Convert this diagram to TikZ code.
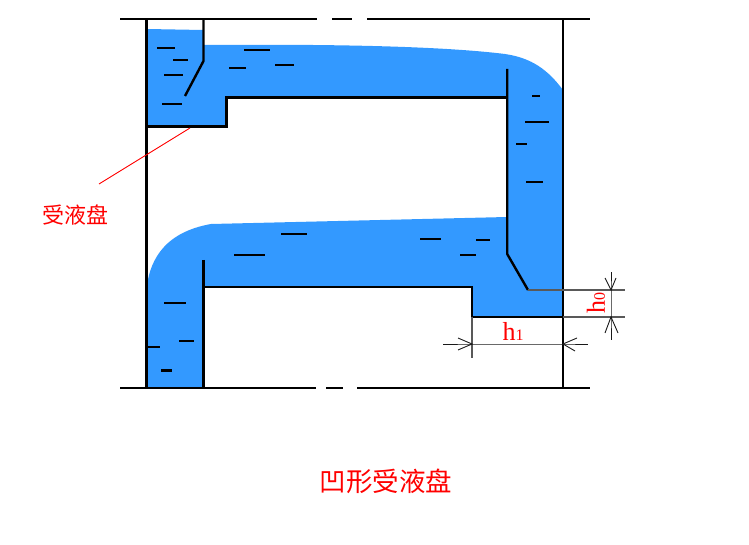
\documentclass[tikz,border=0pt]{standalone}
\usepackage{fontspec}
\setmainfont{Liberation Serif}
\newfontfamily\cjk{Noto Sans CJK SC}
\definecolor{liquid}{RGB}{51,153,255}
\tikzset{
  wall/.style={draw=black,line width=2.4pt},
  ripple/.style={draw=black,line width=2.1pt},
  dim/.style={draw=black!90,line width=0.9pt},
  ext/.style={draw=black!65,line width=1.1pt},
  redtext/.style={text=red,inner sep=0pt},
}
\begin{document}
\begin{tikzpicture}[x=1pt,y=-1pt]
\useasboundingbox (0,0) rectangle (749,545);
% liquid
\fill[liquid] (147,29) -- (203,30) -- (203,45)
  .. controls (330,44) and (440,46) .. (505,54)
  .. controls (532,58) and (548,70) .. (563,90)
  -- (563,317) -- (472,317) -- (472,287) -- (204,287) -- (204,388) -- (147,388)
  -- (147,285) .. controls (151,258) and (166,232) .. (211,224)
  -- (507,217) -- (507,97) -- (227,97) -- (227,126) -- (147,126) -- cycle;
% walls
\draw[wall] (120,19) -- (317,19) (332,19) -- (352,19) (367,19) -- (590,19);
\draw[wall] (120,388) -- (316,388) (326,388) -- (343,388) (357,388) -- (590,388);
\draw[wall] (146.3,19) -- (146.3,388);
\draw[wall] (563.2,19) -- (563.2,388);
\draw[wall] (203.5,19) -- (203.5,61) -- (185,96);
\draw[wall] (146,126.5) -- (226.5,126.5) -- (226.5,97.5) -- (507,97.5);
\draw[wall] (507.2,69) -- (507.2,254) -- (528,290);
\draw[wall] (203.5,260) -- (203.5,388);
\draw[wall] (203.5,287) -- (472,287) -- (472,317) -- (563,317);
% ripples
\foreach \a/\b/\y in {157/175/48,173/188/60,164/183/75,162/182/104,244/270/50,229/246/68,275/294/65,
  532/540/96,525/549/122,516/527/144,526/543/182,
  164/186/303,146/160/347,179/194/341,161/172/370.5,234/265/255,281/307/234,
  420/441/239,476/490/240,460/476/255}
  \draw[ripple] (\a,\y) -- (\b,\y);
% dimension extension lines
\draw[ext] (528,290) -- (625,290);
\draw[ext] (563,317) -- (625,317);
\draw[ext] (472,317) -- (472,358);
% dimension lines
\coordinate (h1a) at (472,344);
\coordinate (h1b) at (563,344);
\coordinate (h0a) at (611,290);
\coordinate (h0b) at (611,317);
\draw[dim] (443,344) -- (h1a) -- (h1b) -- (588,344);
\draw[dim] (458,338) -- (h1a) -- (458,350);
\draw[dim] (577,338) -- (h1b) -- (575,351);
\draw[dim] (611,272) -- (h0a) -- (h0b) -- (611,340);
\draw[dim] (605,278) -- (h0a) -- (616,278);
\draw[dim] (605,333) -- (h0b) -- (618,333);
% leader
\coordinate (leadA) at (190,128);
\coordinate (leadB) at (99,184);
\draw[red,line width=0.9pt] (leadA) -- (leadB);
% labels
\node[redtext,anchor=center] (tray) at (75,215.5) {\cjk\fontsize{22}{24}\selectfont 受液盘};
\node[redtext,anchor=center] (title) at (386,481.5) {\cjk\fontsize{26.5}{30}\selectfont 凹形受液盘};
\node[redtext,anchor=center] (h1) at (513,331) {\fontsize{26}{28}\selectfont h\fontsize{16}{17}\selectfont 1};
\node[redtext,anchor=center,rotate=90] (h0) at (596,303) {\fontsize{26}{28}\selectfont h\fontsize{16}{17}\selectfont 0};
\end{tikzpicture}
\end{document}
